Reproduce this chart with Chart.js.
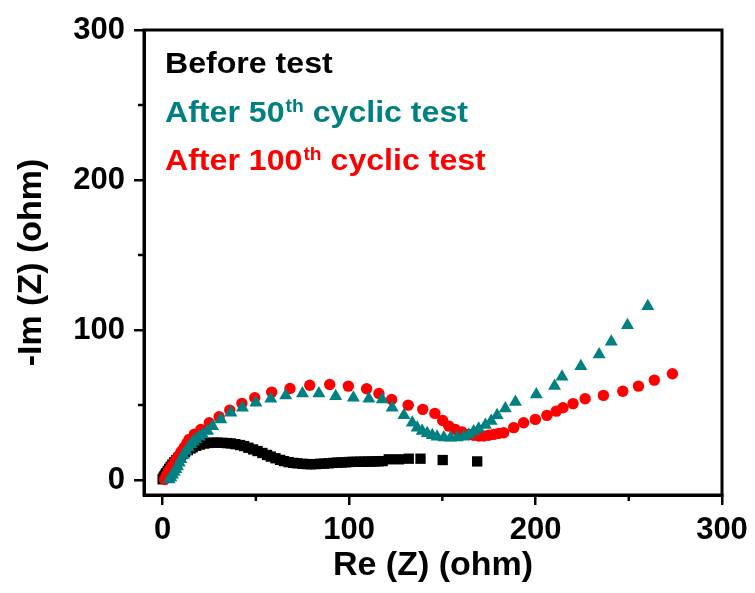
<!DOCTYPE html>
<html>
<head>
<meta charset="utf-8">
<script src="https://cdn.jsdelivr.net/npm/chart.js@4.4.0/dist/chart.umd.min.js"></script>
<style>
  html, body { margin: 0; padding: 0; background: #fff; }
  #wrap { width: 755px; height: 593px; }
</style>
</head>
<body>
<div id="wrap"><canvas id="eisChart" width="755" height="593"></canvas></div>
<script>
// Nyquist data: [Re(Z), -Im(Z)] in ohm
const beforeTest = [
  [0,0.5],[0.5,1.6],[1,2.6],[1.5,3.6],[2,4.6],[2.7,6],[3.5,7.4],[4.3,8.8],[5.2,10.3],[6.2,11.8],
  [7.3,13.3],[8.5,14.8],[9.7,16.3],[10.7,17.3],[12,18.6],[13.5,19.9],[15,21],[16.1,21.8],[18,22.8],[20,23.6],
  [22.3,24.3],[24.5,24.7],[27,24.9],[29.4,24.9],[32,24.8],[34.5,24.6],[36.6,24.4],[39,23.9],[41.5,23.3],[43.7,22.6],
  [46,21.5],[48.5,20.4],[50.9,19.3],[53.5,18],[56,16.7],[58,15.6],[60.5,14.5],[63,13.4],[65.1,12.6],[67.5,11.9],
  [70,11.4],[72.3,11.1],[75,10.8],[77.5,10.6],[79.4,10.5],[82,10.6],[84.5,10.8],[86.5,10.9],[89,11.1],[91.5,11.4],
  [93.7,11.6],[96,11.7],[98,11.8],[99.9,12],[102,12.1],[104,12.1],[106,12.2],[108,12.2],[110,12.3],[112,12.3],
  [114,12.4],[116,12.5],[118,12.6],[121.3,13.8],[126.7,13.8],[132,14.2],[138.3,14.2],[150.2,13.3],[168.7,12.4]
];
const after50 = [
  [3.5,0.3],[4.4,1.6],[5.3,3.5],[6.2,5.3],[7.1,7.1],[8,9],[8.9,11.5],[9.8,13.8],[11.1,16.6],[12.5,19.3],
  [13.8,21.6],[15.2,23.8],[16.5,25.5],[17.8,27.1],[19.6,28.8],[21.4,30.4],[24.1,32.6],[26.8,35.9],[31.2,40.4],[36.6,44.9],
  [42.8,48.2],[50,51.5],[58,54.2],[66,56.4],[75,57.7],[83.8,57.7],[92.8,55.9],[102.3,54.8],[110.6,54.2],[117.8,53.7],
  [123.1,48.2],[129.4,43.1],[133.9,38.2],[136.5,34.9],[139.2,32.6],[141.9,31.1],[144.6,29.8],[147.2,28.9],[150.8,28.4],[154.4,28.2],
  [158,28.4],[161.5,28.9],[164.2,30.2],[166.8,32.4],[169.5,34.2],[173.1,36.6],[176.2,39.3],[179.4,43.1],[183.8,47.6],[189.2,52],
  [200.4,57],[210.2,62.6],[214.2,68.8],[224.3,75.9],[234.1,83.7],[240.6,92.1],[249.3,103.2],[260.2,115.8]
];
const after100 = [
  [1,0.3],[2,3],[3,5.5],[4,7.5],[5,9.5],[6.2,11.6],[7.2,13.5],[8.5,16],[10,19],[11.5,21.7],
  [13,24.5],[14.2,27.1],[17,30.5],[20.5,33.7],[25,38.2],[30.3,42.2],[36,46.6],[42.5,51.1],[49.4,54.8],[58.5,58.6],
  [68.3,61],[78.9,63.2],[89.6,63.7],[99.6,62.6],[109.4,60.8],[116,57.7],[122.8,53.7],[131.7,49.9],[139.5,47.1],[146,44.4],
  [150.2,39.7],[153.5,35.9],[157,33.7],[160.6,32],[164.2,30.4],[166.8,29.8],[169.5,29.3],[172.2,29.3],[174.9,29.8],[177.5,30.4],
  [180.2,31.1],[182.9,31.5],[188.3,34.9],[193.6,38.2],[199.9,40.4],[206.1,43.1],[211.1,45.9],[214.7,48.2],[220.1,50.9],[226.6,54.2],
  [236.4,56.4],[246.8,59.2],[255.2,62.6],[263.7,66.6],[273.4,70.8]
];

const majorTicks = [0, 100, 200, 300];
const minorTicks = [50, 150, 250];

// legend lines: [text before superscript, superscript, text after]
const legendLines = [
  { parts: ['Before test', '', ''], color: '#000000' },
  { parts: ['After 50', 'th', ' cyclic test'], color: '#008080' },
  { parts: ['After 100', 'th', ' cyclic test'], color: '#ff0000' }
];

const FONT = "'Liberation Sans', Arial, sans-serif";
const toXY = arr => arr.map(p => ({ x: p[0], y: p[1] }));

// 외곽 박스, 보조 눈금, 범례 텍스트
const framePlugin = {
  id: 'frame',
  afterDraw(chart) {
    const { ctx, chartArea: a, scales } = chart;
    ctx.save();
    ctx.strokeStyle = '#000';
    ctx.lineWidth = 3;
    ctx.strokeRect(a.left, a.top, a.right - a.left, a.bottom - a.top);

    ctx.lineWidth = 2.5;
    ctx.beginPath();
    minorTicks.forEach(v => {
      const px = scales.x.getPixelForValue(v);
      ctx.moveTo(px, a.bottom);
      ctx.lineTo(px, a.bottom + 6);
      const py = scales.y.getPixelForValue(v);
      ctx.moveTo(a.left, py);
      ctx.lineTo(a.left - 6, py);
    });
    ctx.stroke();

    // 범례: 원본 글자가 가로로 조금 넓어서 살짝 늘려 그림
    const baselines = [73, 122, 170];
    const stretch = 1.07;
    legendLines.forEach((item, i) => {
      ctx.save();
      ctx.translate(165, baselines[i]);
      ctx.scale(stretch, 1);
      let x = 0;
      ctx.fillStyle = item.color;
      ctx.textBaseline = 'alphabetic';
      ctx.textAlign = 'left';
      ctx.font = 'bold 30px ' + FONT;
      ctx.fillText(item.parts[0], x, 0);
      x += ctx.measureText(item.parts[0]).width;
      if (item.parts[1]) {
        ctx.font = 'bold 18px ' + FONT;
        ctx.fillText(item.parts[1], x + 1, -10);
        x += ctx.measureText(item.parts[1]).width + 1;
        ctx.font = 'bold 30px ' + FONT;
        ctx.fillText(item.parts[2], x, 0);
      }
      ctx.restore();
    });
    ctx.restore();
  }
};

new Chart(document.getElementById('eisChart'), {
  type: 'scatter',
  data: {
    datasets: [
      {
        label: 'Before test',
        data: toXY(beforeTest),
        pointStyle: 'rect',
        pointRadius: 7.3,
        backgroundColor: '#000000',
        borderColor: '#000000',
        borderWidth: 0,
        order: 3
      },
      {
        label: 'After 100th cyclic test',
        data: toXY(after100),
        pointStyle: 'circle',
        pointRadius: 5.7,
        backgroundColor: '#ff0000',
        borderColor: '#ff0000',
        borderWidth: 0,
        order: 2
      },
      {
        label: 'After 50th cyclic test',
        data: toXY(after50),
        pointStyle: 'triangle',
        pointRadius: 7.5,
        backgroundColor: '#008080',
        borderColor: '#008080',
        borderWidth: 0,
        order: 1
      }
    ]
  },
  options: {
    responsive: false,
    animation: false,
    layout: { padding: { left: 0, top: 30, right: 33, bottom: 0 } },
    plugins: {
      legend: { display: false },
      tooltip: { enabled: false }
    },
    scales: {
      x: {
        type: 'linear',
        min: -10,
        max: 300,
        afterBuildTicks: s => { s.ticks = majorTicks.map(v => ({ value: v })); },
        afterFit: s => { s.height = 98; },
        border: { display: true, color: '#000', width: 3 },
        grid: { drawOnChartArea: false, drawTicks: true, tickLength: 10, color: '#000', lineWidth: 2.5 },
        ticks: { color: '#000', padding: 7, maxRotation: 0, font: { family: FONT, size: 31, weight: 'bold' } },
        title: {
          display: true,
          text: 'Re (Z) (ohm)',
          color: '#000',
          padding: { top: 7, bottom: 7 },
          font: { family: FONT, size: 34, weight: 'bold' }
        }
      },
      y: {
        type: 'linear',
        min: -10,
        max: 300,
        afterBuildTicks: s => { s.ticks = majorTicks.map(v => ({ value: v })); },
        afterFit: s => { s.width = 144; },
        border: { display: true, color: '#000', width: 3 },
        grid: { drawOnChartArea: false, drawTicks: true, tickLength: 10, color: '#000', lineWidth: 2.5 },
        ticks: { color: '#000', padding: 9, font: { family: FONT, size: 31, weight: 'bold' } },
        title: {
          display: true,
          text: '-Im (Z) (ohm)',
          color: '#000',
          padding: { top: 11, bottom: 0 },
          font: { family: FONT, size: 34, weight: 'bold' }
        }
      }
    }
  },
  plugins: [framePlugin]
});
</script>
</body>
</html>
